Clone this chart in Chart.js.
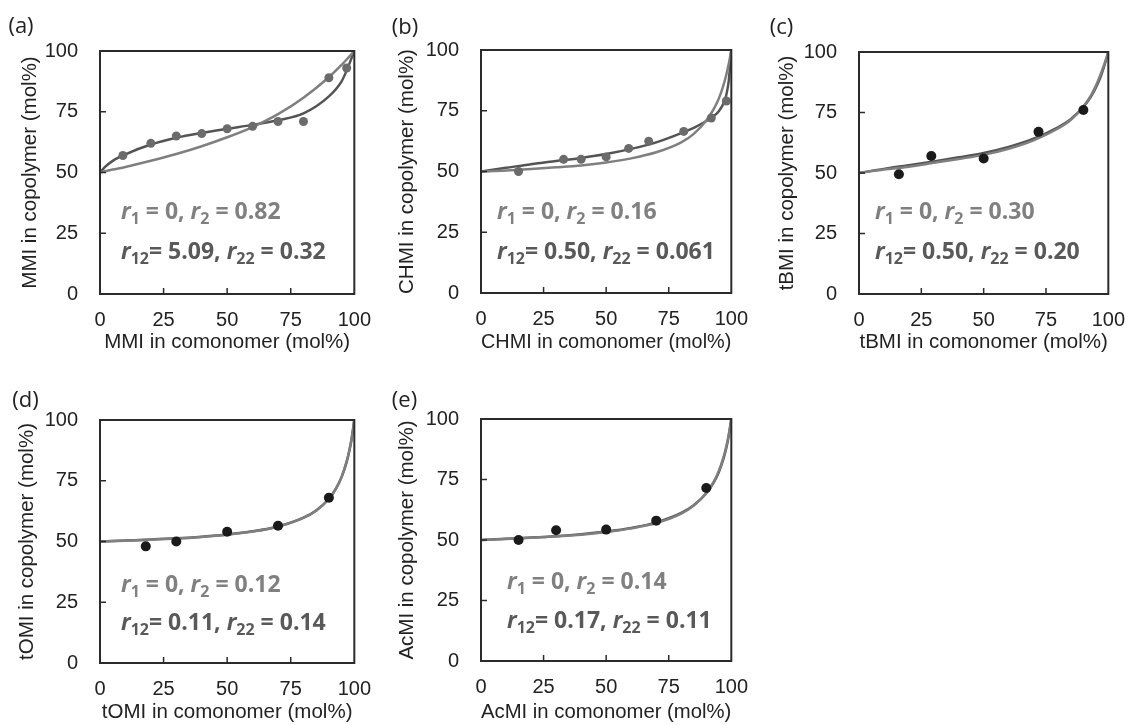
<!DOCTYPE html>
<html>
<head>
<meta charset="utf-8">
<script src="https://cdn.jsdelivr.net/npm/chart.js@4.4.1/dist/chart.umd.min.js"></script>
<style>
  html, body { margin: 0; padding: 0; background: #fff; overflow: hidden; }
  #page { position: relative; width: 1131px; height: 725px; }
  canvas { position: absolute; }
</style>
</head>
<body>
<div id="page">
  <canvas id="chart-a" width="377" height="362" style="left:0;top:0"></canvas>
  <canvas id="chart-b" width="377" height="362" style="left:377px;top:0"></canvas>
  <canvas id="chart-c" width="377" height="362" style="left:754px;top:0"></canvas>
  <canvas id="chart-d" width="377" height="370" style="left:0;top:362px"></canvas>
  <canvas id="chart-e" width="377" height="370" style="left:377px;top:362px"></canvas>
</div>
<script>
// feed composition grid used for the fitted curves (mol%)
const curveFeedA = [0, 2, 5, 10, 20, 30, 40, 50, 60, 70, 80, 90, 95, 97, 100];
const curveFeed = [0, 10, 20, 30, 40, 50, 60, 70, 80, 85, 90, 93, 95, 97, 98, 99, 100];

// (a) MMI
const mmiFeed = [9, 20, 30, 40, 50, 60, 70, 80, 90, 97];
const mmiCopolymer = [57, 62, 65, 66, 68, 69, 71, 71, 89, 93];
const mmiTerminal = [50, 50.5, 51.2, 52.3, 54.8, 57.6, 60.8, 64.5, 68.7, 74, 80.8, 89.2, 94.3, 96.5, 100];
const mmiPenultimate = [50, 52.3, 54.8, 57.5, 61.5, 64.3, 66.3, 68, 69.6, 71.5, 74.3, 81.3, 87.5, 92, 100];

// (b) CHMI
const chmiFeed = [15, 33, 40, 50, 59, 67, 81, 92, 98];
const chmiCopolymer = [50, 55, 55, 56, 59.5, 62.5, 66.5, 72, 79];
const chmiTerminal = [50, 50.4, 51, 51.7, 52.5, 53.7, 55.4, 57.9, 62, 65.5, 71, 75.8, 80, 86, 89.8, 94.4, 100];
const chmiPenultimate = [50, 51.5, 53, 54.3, 55.6, 57.2, 59.3, 62, 65.8, 68, 70.8, 72.8, 74.8, 78.3, 81.5, 87.5, 100];

// (c) tBMI
const tbmiFeed = [16, 29, 50, 72, 90];
const tbmiCopolymer = [49.5, 57, 56, 67, 76];
const tbmiTerminal = [50, 51.4, 52.6, 54.2, 55.8, 57.5, 60, 63.5, 68.5, 72, 77.5, 82, 86, 91, 93.8, 96.8, 100];
const tbmiPenultimate = [50, 51.7, 53.2, 54.8, 56.5, 58.3, 60.8, 64.2, 69, 72.3, 77.3, 81.5, 85.2, 90, 93, 96.3, 100];

// (d) tOMI
const tomiFeed = [18, 30, 50, 70, 90];
const tomiCopolymer = [48, 50, 54, 56.5, 68];
const tomiTerminal = [50, 50.3, 50.7, 51.2, 51.9, 52.8, 54.1, 56.1, 59.7, 62.7, 67.5, 72.2, 76.6, 83, 87.3, 92.8, 100];
const tomiPenultimate = [50, 50.4, 50.8, 51.3, 52, 52.9, 54.2, 56.2, 59.8, 62.8, 67.6, 72.2, 76.5, 82.8, 87, 92.5, 100];

// (e) AcMI
const acmiFeed = [15, 30, 50, 70, 90];
const acmiCopolymer = [50, 54, 54.3, 58, 71.5];
const acmiTerminal = [50, 50.4, 50.9, 51.5, 52.2, 53.3, 54.8, 57, 60.9, 64.2, 69.3, 74.1, 78.5, 84.7, 88.7, 93.7, 100];
const acmiPenultimate = [50, 50.5, 51, 51.6, 52.4, 53.5, 55, 57.3, 61.2, 64.4, 69.3, 73.8, 78, 84, 88, 93.2, 100];

const axisTicks = [25, 50, 75];

function toPoints(xs, ys) {
    return xs.map((x, i) => ({ x: x, y: ys[i] }));
}

// text with italic r and subscripts
function drawRich(ctx, parts, x, y, color) {
    ctx.fillStyle = color;
    ctx.textAlign = 'left';
    ctx.textBaseline = 'alphabetic';
    for (const [text, kind] of parts) {
        const size = kind === 's' ? 16 : 23;
        ctx.font = (kind === 'i' ? 'italic ' : '') + 'bold ' + size + 'px "Open Sans", sans-serif';
        ctx.fillText(text, x, kind === 's' ? y + 5 : y);
        x += ctx.measureText(text).width;
    }
}

const panelPlugin = {
    id: 'panel',
    afterDraw(chart, args, opts) {
        const { ctx, chartArea: a, scales: { x, y } } = chart;
        ctx.save();
        ctx.strokeStyle = '#2b2b2b';
        ctx.lineWidth = 1.5;
        ctx.beginPath();
        for (const v of axisTicks) {
            const px = x.getPixelForValue(v);
            ctx.moveTo(px, a.bottom);
            ctx.lineTo(px, a.bottom - 6);
            const py = y.getPixelForValue(v);
            ctx.moveTo(a.left, py);
            ctx.lineTo(a.left + 6, py);
        }
        ctx.stroke();
        ctx.lineWidth = 2;
        ctx.strokeRect(a.left, a.top, a.right - a.left, a.bottom - a.top);

        ctx.fillStyle = '#222';
        ctx.font = '22px "Open Sans", sans-serif';
        ctx.textAlign = 'center';
        ctx.textBaseline = 'middle';
        ctx.fillText(opts.letter, opts.letterX, opts.letterY);

        drawRich(ctx, opts.line1, opts.textX, opts.base1, '#808080');
        drawRich(ctx, opts.line2, opts.textX, opts.base2, '#595959');
        ctx.restore();
    }
};

function makePanel(canvasId, p) {
    const canvas = document.getElementById(canvasId);
    const W = canvas.width, H = canvas.height;
    const axisFont = { family: '"Liberation Sans", Arial, sans-serif', size: 20 };
    const titleFont = { family: '"Liberation Sans", Arial, sans-serif', size: 20.5 };
    new Chart(canvas.getContext('2d'), {
        type: 'scatter',
        data: {
            datasets: [{
                data: toPoints(p.feed, p.copolymer),
                showLine: false,
                pointRadius: p.dotRadius,
                pointBackgroundColor: p.dotColor,
                pointBorderWidth: 0
            }, {
                data: toPoints(p.grid, p.terminal),
                showLine: true,
                pointRadius: 0,
                borderColor: '#7f7f7f',
                borderWidth: 2.5,
                cubicInterpolationMode: 'monotone'
            }, {
                data: toPoints(p.grid, p.penultimate),
                showLine: true,
                pointRadius: 0,
                borderColor: '#545454',
                borderWidth: 2.5,
                cubicInterpolationMode: 'monotone'
            }]
        },
        options: {
            responsive: false,
            animation: false,
            devicePixelRatio: 1,
            layout: { padding: { left: 0, top: p.area[1], right: W - p.area[2], bottom: 0 } },
            plugins: {
                legend: { display: false },
                tooltip: { enabled: false },
                panel: p.labels
            },
            scales: {
                x: {
                    type: 'linear', min: 0, max: 100,
                    afterFit(scale) { scale.height = H - p.area[3]; },
                    grid: { display: false },
                    border: { display: false },
                    ticks: { stepSize: 25, padding: 6, color: '#222', font: axisFont },
                    title: {
                        display: true, text: p.xTitle, color: '#222', font: titleFont,
                        padding: { top: 0, bottom: 7 }
                    }
                },
                y: {
                    type: 'linear', min: 0, max: 100,
                    afterFit(scale) { scale.width = p.area[0]; },
                    grid: { display: false },
                    border: { display: false },
                    ticks: { stepSize: 25, padding: 14, color: '#222', font: axisFont },
                    title: {
                        display: true, text: p.yTitle, color: '#222', font: titleFont,
                        padding: { top: p.yTitlePad, bottom: 0 }
                    }
                }
            }
        },
        plugins: [panelPlugin]
    });
}

function rLine1(r2) {
    return [['r', 'i'], ['1', 's'], [' = 0, ', ''], ['r', 'i'], ['2', 's'], [' = ' + r2, '']];
}
function rLine2(r12, r22) {
    return [['r', 'i'], ['12', 's'], ['= ' + r12 + ', ', ''], ['r', 'i'], ['22', 's'], [' = ' + r22, '']];
}

document.addEventListener('DOMContentLoaded', function () {
    makePanel('chart-a', {
        feed: mmiFeed, copolymer: mmiCopolymer, grid: curveFeedA,
        terminal: mmiTerminal, penultimate: mmiPenultimate,
        dotColor: '#6b6b6b', dotRadius: 4.5,
        area: [100, 51, 358, 294], yTitlePad: 18,
        xTitle: 'MMI in comonomer (mol%)', yTitle: 'MMI in copolymer (mol%)',
        labels: { letter: '(a)', letterX: 21, letterY: 27, textX: 121, base1: 219, base2: 259,
            line1: rLine1('0.82'), line2: rLine2('5.09', '0.32') }
    });
    makePanel('chart-b', {
        feed: chmiFeed, copolymer: chmiCopolymer, grid: curveFeed,
        terminal: chmiTerminal, penultimate: chmiPenultimate,
        dotColor: '#6b6b6b', dotRadius: 4.5,
        area: [104, 50, 360, 293], yTitlePad: 18,
        xTitle: 'CHMI in comonomer (mol%)', yTitle: 'CHMI in copolymer (mol%)',
        labels: { letter: '(b)', letterX: 28, letterY: 28, textX: 120, base1: 219, base2: 259,
            line1: rLine1('0.16'), line2: rLine2('0.50', '0.061') }
    });
    makePanel('chart-c', {
        feed: tbmiFeed, copolymer: tbmiCopolymer, grid: curveFeed,
        terminal: tbmiTerminal, penultimate: tbmiPenultimate,
        dotColor: '#1a1a1a', dotRadius: 5,
        area: [105, 52, 363, 294], yTitlePad: 21,
        xTitle: 'tBMI in comonomer (mol%)', yTitle: 'tBMI in copolymer (mol%)',
        labels: { letter: '(c)', letterX: 27.5, letterY: 28, textX: 121, base1: 219, base2: 259,
            line1: rLine1('0.30'), line2: rLine2('0.50', '0.20') }
    });
    makePanel('chart-d', {
        feed: tomiFeed, copolymer: tomiCopolymer, grid: curveFeed,
        terminal: tomiTerminal, penultimate: tomiPenultimate,
        dotColor: '#1a1a1a', dotRadius: 5,
        area: [100, 58, 358, 301], yTitlePad: 15,
        xTitle: 'tOMI in comonomer (mol%)', yTitle: 'tOMI in copolymer (mol%)',
        labels: { letter: '(d)', letterX: 25.5, letterY: 39, textX: 121, base1: 230, base2: 268,
            line1: rLine1('0.12'), line2: rLine2('0.11', '0.14') }
    });
    makePanel('chart-e', {
        feed: acmiFeed, copolymer: acmiCopolymer, grid: curveFeed,
        terminal: acmiTerminal, penultimate: acmiPenultimate,
        dotColor: '#1a1a1a', dotRadius: 5,
        area: [104, 57, 362, 299], yTitlePad: 18,
        xTitle: 'AcMI in comonomer (mol%)', yTitle: 'AcMI in copolymer (mol%)',
        labels: { letter: '(e)', letterX: 27.5, letterY: 39, textX: 130, base1: 227, base2: 266,
            line1: rLine1('0.14'), line2: rLine2('0.17', '0.11') }
    });
});
</script>
</body>
</html>
